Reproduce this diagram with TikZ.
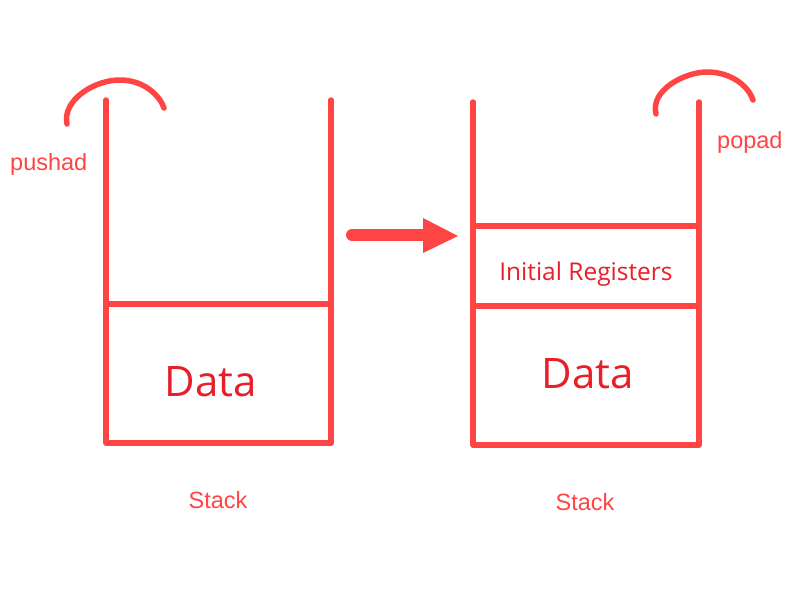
\documentclass[tikz,border=0pt]{standalone}
\usepackage{fontspec}
\setmainfont{Liberation Sans}
\newfontfamily\boxfont{Open Sans}
\definecolor{lred}{RGB}{255,68,68}
\definecolor{dred}{RGB}{232,30,40}
\begin{document}
\begin{tikzpicture}[x=1pt,y=-1pt,
  stk/.style={draw=lred,line width=5.5pt,line cap=round,line join=round},
  arc/.style={draw=lred,line width=5.5pt,line cap=round},
  lbl/.style={text=lred,font=\fontsize{23.5}{26}\selectfont,inner sep=0pt},
  bigtxt/.style={text=dred,font=\boxfont\fontsize{42}{46}\selectfont,inner sep=0pt},
  midtxt/.style={text=dred,font=\boxfont\fontsize{24.5}{28}\selectfont,inner sep=0pt}]
\useasboundingbox (0,0) rectangle (807,600);
% left stack
\coordinate (l1) at (106,100);
\coordinate (l2) at (106,443);
\coordinate (l3) at (331,443);
\coordinate (l4) at (331,100);
\draw[stk] (l1) -- (l2) -- (l3) -- (l4);
\draw[stk] (106,304) -- (331,304);
% right stack
\coordinate (r1) at (473,102);
\coordinate (r2) at (473,445);
\coordinate (r3) at (699,445);
\coordinate (r4) at (699,102);
\draw[stk] (r1) -- (r2) -- (r3) -- (r4);
\draw[stk] (473,226) -- (699,226);
\draw[stk] (473,306) -- (699,306);
% arcs
\draw[arc] (67,124) .. controls (62,100) and (95,79) .. (122,80) .. controls (145,81) and (160,96) .. (164,108);
\draw[arc] (656,114) .. controls (650,90) and (685,72) .. (707,72) .. controls (730,72) and (748,85) .. (753,100);
% arrow
\coordinate (a1) at (352,235);
\coordinate (a2) at (428,235);
\draw[draw=lred,line width=12pt,line cap=round] (a1) -- (a2);
\fill[lred] (423,218) -- (458,236) -- (423,253) -- cycle;
% texts
\node[bigtxt,anchor=base] (d1) at (211,396) {Data};
\node[bigtxt,anchor=base] (d2) at (588,388) {Data};
\node[midtxt,anchor=base] (ir) at (586,280) {Initial Registers};
\node[lbl,anchor=base] (s1) at (218,508) {Stack};
\node[lbl,anchor=base] (s2) at (585,510) {Stack};
\node[lbl,anchor=base west] (pu) at (10,170) {pushad};
\node[lbl,anchor=base west] (po) at (717,148) {popad};
\end{tikzpicture}
\end{document}
